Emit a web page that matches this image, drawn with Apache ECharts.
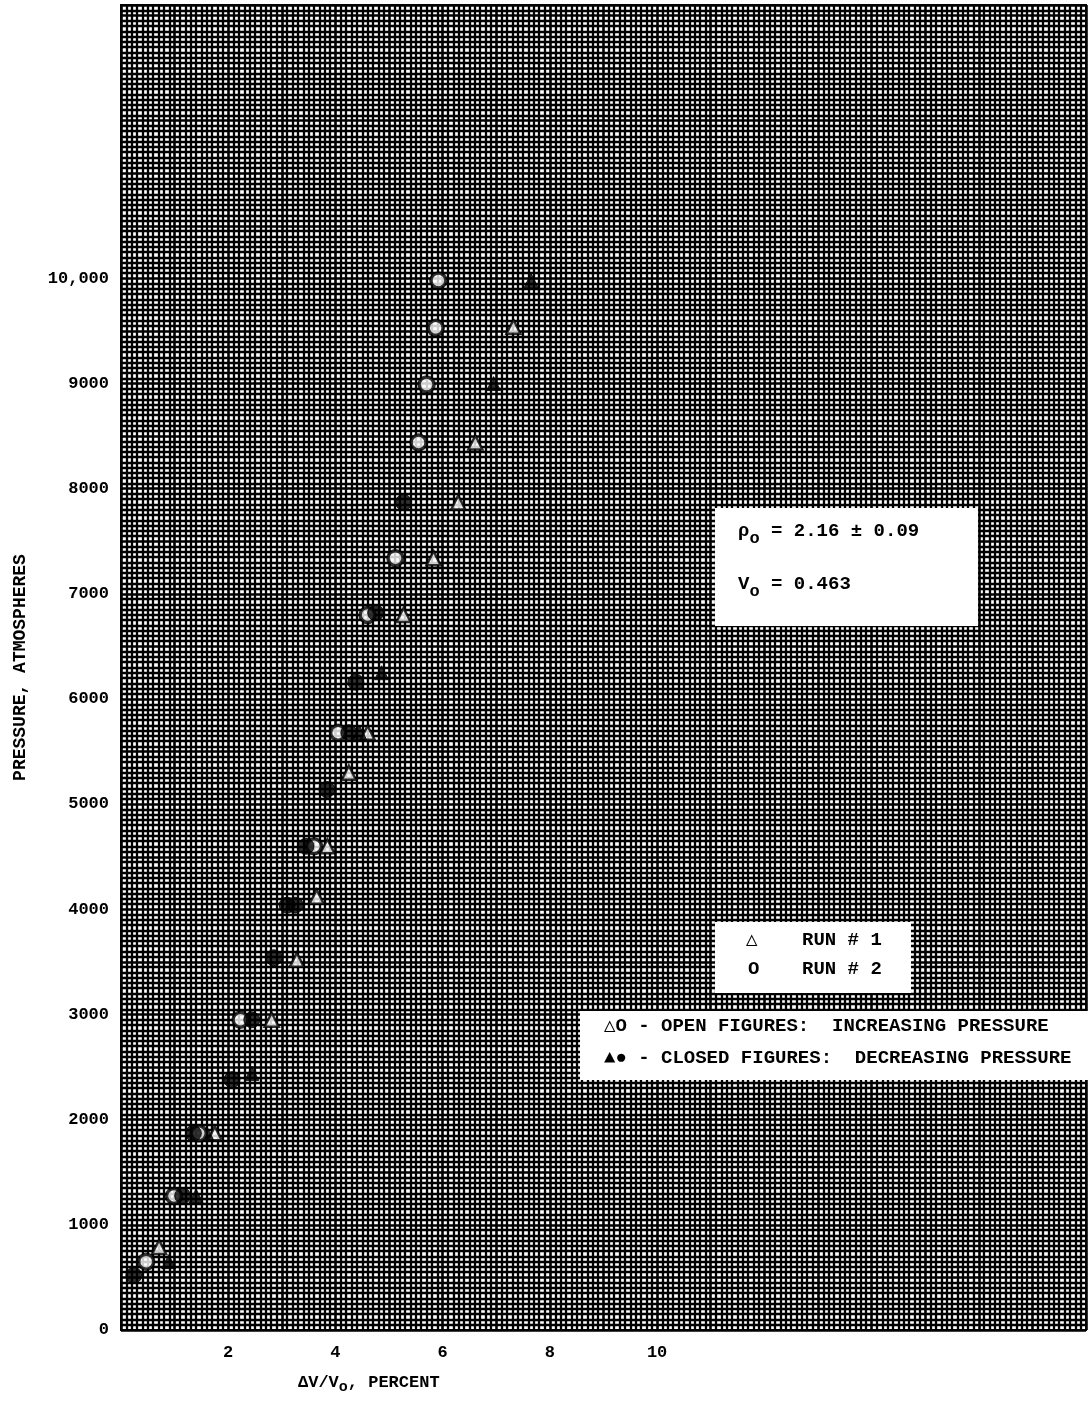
<!DOCTYPE html>
<html>
<head>
<meta charset="utf-8">
<script src="https://cdn.jsdelivr.net/npm/echarts@6/dist/echarts.min.js"></script>
<style>
html,body{margin:0;padding:0;background:#fff;}
#chart{width:1089px;height:1404px;}
</style>
</head>
<body>
<div id="chart"></div>
<script>
// Axis tick labels
const xTickLabels = [2, 4, 6, 8, 10];
const yTickValues = [0, 1000, 2000, 3000, 4000, 5000, 6000, 7000, 8000, 9000, 10000];
const yTickLabels = ['0', '1000', '2000', '3000', '4000', '5000', '6000', '7000', '8000', '9000', '10,000'];

// Run 1 (triangles) — open: increasing pressure, closed: decreasing pressure
const run1Open = [
  [0.71, 790], [1.75, 1870], [2.81, 2950], [3.28, 3520], [3.65, 4120],
  [3.85, 4600], [4.25, 5300], [4.60, 5680], [5.27, 6800], [5.83, 7340],
  [6.29, 7870], [6.61, 8440], [7.32, 9540]
];
const run1Closed = [
  [0.89, 650], [1.40, 1275], [1.60, 1870], [2.44, 2440], [4.45, 5680],
  [4.86, 6250], [6.95, 9000], [7.65, 9980]
];
// Run 2 (circles) — open: increasing pressure, closed: decreasing pressure
const run2Open = [
  [0.47, 650], [0.99, 1275], [1.45, 1870], [2.23, 2950], [3.60, 4600],
  [4.05, 5680], [4.60, 6800], [5.12, 7340], [5.55, 8440], [5.70, 8990],
  [5.87, 9530], [5.92, 9980]
];
const run2Closed = [
  [0.24, 520], [1.15, 1275], [1.35, 1870], [2.07, 2380], [2.44, 2950],
  [2.85, 3540], [3.10, 4040], [3.25, 4040], [3.45, 4600], [3.84, 5140],
  [4.25, 5680], [4.38, 6160], [4.75, 6820], [5.27, 7870]
];

const FONT = '"Liberation Mono", "DejaVu Sans Mono", monospace';

const chart = echarts.init(document.getElementById('chart'), null, {renderer: 'canvas'});

const gridLine = {color: '#000', width: 2.6};
const minorLine = {color: '#000', width: 2.3};

const option = {
  backgroundColor: '#fff',
  animation: false,
  grid: {left: 121, right: 0, top: 5, bottom: 74, show: true, backgroundColor: '#fff', borderColor: '#000', borderWidth: 2},
  xAxis: {
    type: 'value', min: 0, max: 18, interval: 1,
    axisLine: {show: true, lineStyle: {color: '#000', width: 2}},
    axisTick: {show: false},
    splitLine: {show: true, lineStyle: gridLine},
    minorTick: {show: false, splitNumber: 10},
    minorSplitLine: {show: true, lineStyle: minorLine},
    axisLabel: {
      margin: 14, color: '#000', fontFamily: FONT, fontSize: 17, fontWeight: 'bold',
      formatter: v => xTickLabels.includes(v) ? String(v) : ''
    }
  },
  yAxis: {
    type: 'value', min: 0, max: 12600, interval: 500,
    name: 'PRESSURE, ATMOSPHERES', nameLocation: 'middle', nameGap: 92, nameRotate: 90,
    nameTextStyle: {color: '#000', fontFamily: FONT, fontSize: 18, fontWeight: 'bold'},
    axisLine: {show: true, lineStyle: {color: '#000', width: 2}},
    axisTick: {show: false},
    splitLine: {show: true, lineStyle: gridLine},
    minorTick: {show: false, splitNumber: 10},
    minorSplitLine: {show: true, lineStyle: minorLine},
    axisLabel: {
      margin: 12, color: '#000', fontFamily: FONT, fontSize: 17, fontWeight: 'bold',
      formatter: v => { const i = yTickValues.indexOf(v); return i >= 0 ? yTickLabels[i] : ''; }
    }
  },
  series: [
    {name: 'Run 1 increasing', type: 'scatter', data: run1Open, symbol: 'triangle', symbolSize: 14,
     itemStyle: {color: '#fff', borderColor: '#000', borderWidth: 2.5}, z: 3},
    {name: 'Run 1 decreasing', type: 'scatter', data: run1Closed, symbol: 'triangle', symbolSize: 14,
     itemStyle: {color: '#000', borderColor: '#000', borderWidth: 1}, z: 3},
    {name: 'Run 2 increasing', type: 'scatter', data: run2Open, symbol: 'circle', symbolSize: 15,
     itemStyle: {color: '#fff', borderColor: '#000', borderWidth: 3.5}, z: 4},
    {name: 'Run 2 decreasing', type: 'scatter', data: run2Closed, symbol: 'circle', symbolSize: 16,
     itemStyle: {color: '#000', borderColor: '#000', borderWidth: 1}, z: 4}
  ],
  graphic: [
    // x-axis title
    {type: 'text', left: 298, top: 1374, z: 10,
     style: {text: '{a|ΔV/V}{s|o}{a|, PERCENT}', rich: {
       a: {fontFamily: FONT, fontSize: 17, fontWeight: 'bold', fill: '#000'},
       s: {fontFamily: FONT, fontSize: 15, fontWeight: 'bold', fill: '#000', padding: [10, 0, 0, 0]}
     }}},
    // density / volume box
    {type: 'rect', shape: {x: 715, y: 508, width: 263, height: 118}, style: {fill: '#fff'}, z: 10},
    {type: 'text', left: 738, top: 522, z: 11,
     style: {text: '{a|ρ}{s|o}{a| = 2.16 ± 0.09}', rich: {
       a: {fontFamily: FONT, fontSize: 19, fontWeight: 'bold', fill: '#000'},
       s: {fontFamily: FONT, fontSize: 17, fontWeight: 'bold', fill: '#000', padding: [14, 0, 0, 0]}
     }}},
    {type: 'text', left: 738, top: 575, z: 11,
     style: {text: '{a|V}{s|o}{a| = 0.463}', rich: {
       a: {fontFamily: FONT, fontSize: 19, fontWeight: 'bold', fill: '#000'},
       s: {fontFamily: FONT, fontSize: 17, fontWeight: 'bold', fill: '#000', padding: [14, 0, 0, 0]}
     }}},
    // run legend box
    {type: 'rect', shape: {x: 715, y: 922, width: 196, height: 71}, style: {fill: '#fff'}, z: 10},
    {type: 'text', left: 746, top: 931, z: 11,
     style: {text: '△', fontFamily: FONT, fontSize: 19, fontWeight: 'bold', fill: '#000'}},
    {type: 'text', left: 802, top: 931, z: 11,
     style: {text: 'RUN # 1', fontFamily: FONT, fontSize: 19, fontWeight: 'bold', fill: '#000'}},
    {type: 'text', left: 748, top: 960, z: 11,
     style: {text: 'O', fontFamily: FONT, fontSize: 19, fontWeight: 'bold', fill: '#000'}},
    {type: 'text', left: 802, top: 960, z: 11,
     style: {text: 'RUN # 2', fontFamily: FONT, fontSize: 19, fontWeight: 'bold', fill: '#000'}},
    // open/closed box
    {type: 'rect', shape: {x: 580, y: 1011, width: 509, height: 69}, style: {fill: '#fff'}, z: 10},
    {type: 'text', left: 604, top: 1017, z: 11,
     style: {text: '△O - OPEN FIGURES:  INCREASING PRESSURE', fontFamily: FONT, fontSize: 19, fontWeight: 'bold', fill: '#000'}},
    {type: 'text', left: 604, top: 1049, z: 11,
     style: {text: '▲● - CLOSED FIGURES:  DECREASING PRESSURE', fontFamily: FONT, fontSize: 19, fontWeight: 'bold', fill: '#000'}}
  ]
};

chart.setOption(option);
</script>
</body>
</html>
